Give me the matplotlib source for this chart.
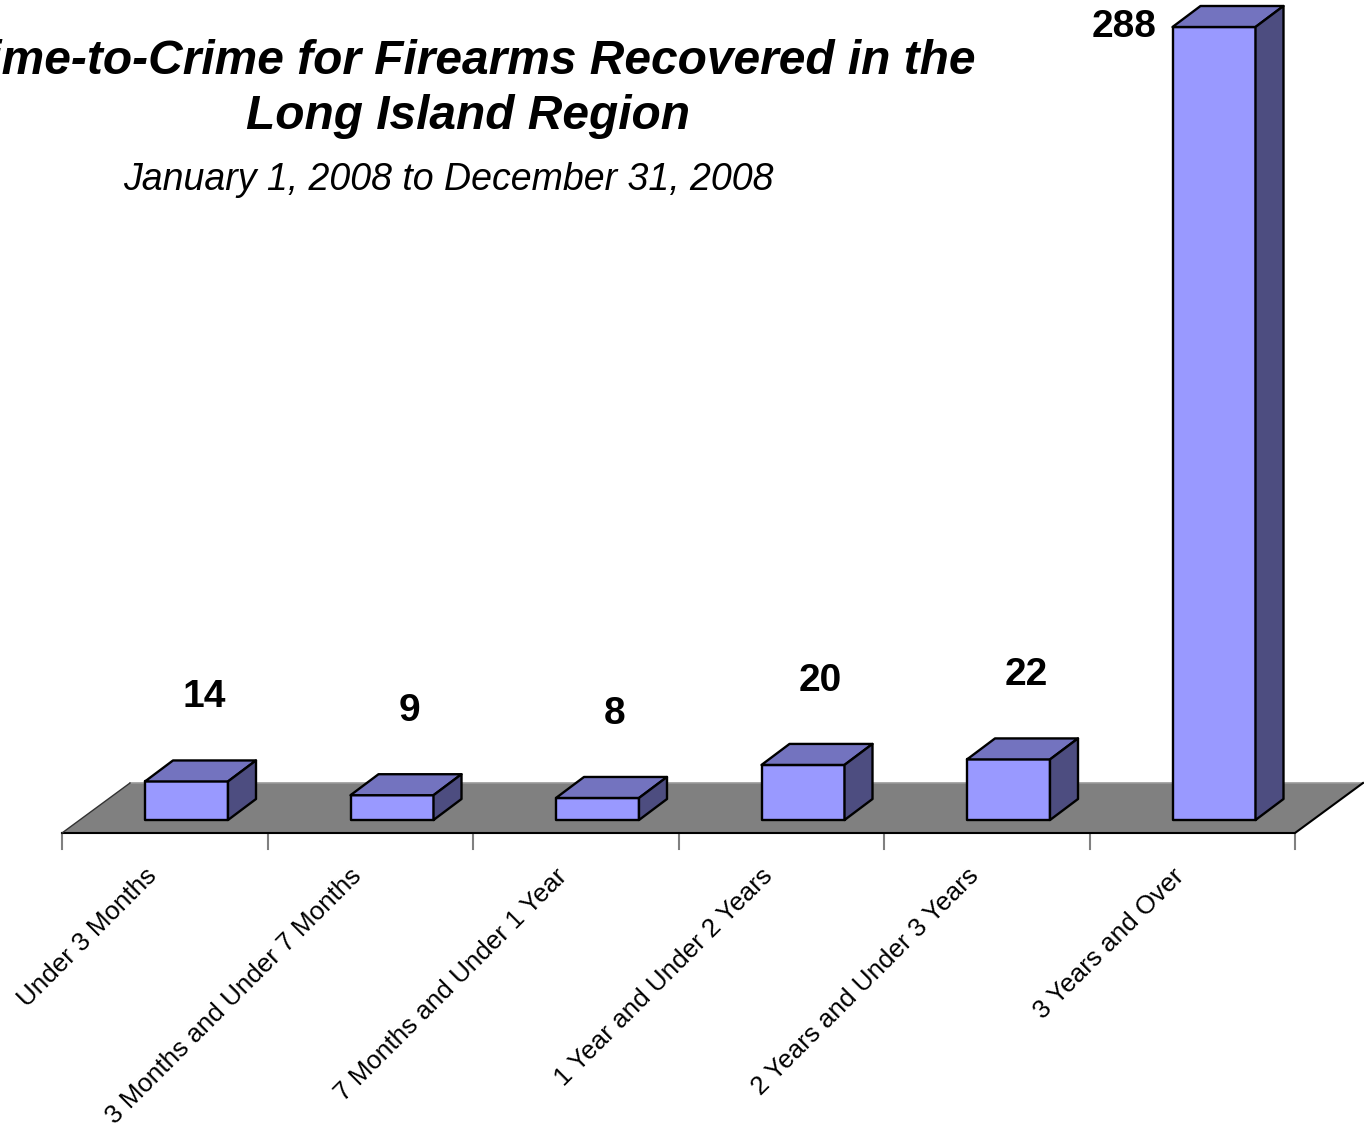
import matplotlib.pyplot as plt
from matplotlib.patches import Polygon

plt.rcParams['font.family'] = ['Liberation Sans', 'DejaVu Sans']

categories = ["Under 3 Months", "3 Months and Under 7 Months",
              "7 Months and Under 1 Year", "1 Year and Under 2 Years",
              "2 Years and Under 3 Years", "3 Years and Over"]
counts = [14, 9, 8, 20, 22, 288]

title = "Time-to-Crime for Firearms Recovered in the\nLong Island Region"
subtitle = "January 1, 2008 to December 31, 2008"

# colours
front_col = "#9999FF"
top_col = "#7373BF"
side_col = "#4D4D80"
floor_col = "#808080"

# pixel scale of the drawing (category spacing, px per unit)
W, H = 1364, 1130
cat_px = 205.5
val_px = 793 / 288
left_px = 62      # px of x = -0.5
zero_px = 820     # px (from top) of value 0

fig = plt.figure(figsize=(W / 100, H / 100), dpi=100)
ax = fig.add_axes([0, 0, 1, 1])
ax.set_xlim(-0.5 - left_px / cat_px, -0.5 + (W - left_px) / cat_px)
ax.set_ylim(-(H - zero_px) / val_px, zero_px / val_px)
ax.axis("off")

n = len(categories)
# depth of the floor and of each bar
fdx, fdy = 68 / cat_px, 50 / val_px
floor_front = -13 / val_px
bdx, bdy = 28 / cat_px, 21 / val_px
bar_w = 83 / cat_px

# floor
x0, x1 = -0.5, n - 0.5
floor = Polygon([(x0, floor_front), (x1, floor_front),
                 (x1 + fdx, floor_front + fdy), (x0 + fdx, floor_front + fdy)],
                closed=True, facecolor=floor_col, edgecolor="none", zorder=1)
ax.add_patch(floor)
ax.plot([x0 + fdx, x1 + fdx], [floor_front + fdy] * 2, color="#999999", lw=1.2, zorder=1.5)
ax.plot([x0, x1, x1 + fdx], [floor_front, floor_front, floor_front + fdy],
        color="black", lw=1.5, zorder=1.5)
ax.plot([x0, x0 + fdx], [floor_front, floor_front + fdy], color="#333333", lw=1, zorder=1.5)

# tick marks
for k in range(n + 1):
    ax.plot([k - 0.5, k - 0.5], [floor_front, floor_front - 16 / val_px],
            color="#808080", lw=1.5, zorder=1)

# bars
for i, v in enumerate(counts):
    bx = i - 0.5 + 83 / cat_px
    ec = dict(edgecolor="black", lw=1.7, joinstyle="round", zorder=3)
    ax.add_patch(Polygon([(bx, 0), (bx + bar_w, 0), (bx + bar_w, v), (bx, v)],
                         facecolor=front_col, **ec))
    ax.add_patch(Polygon([(bx, v), (bx + bar_w, v), (bx + bar_w + bdx, v + bdy),
                          (bx + bdx, v + bdy)], facecolor=top_col, **ec))
    ax.add_patch(Polygon([(bx + bar_w, 0), (bx + bar_w + bdx, bdy),
                          (bx + bar_w + bdx, v + bdy), (bx + bar_w, v)],
                         facecolor=side_col, **ec))
    ly = v + bdy + 23
    if ly > ax.get_ylim()[1] - 10:
        ax.text(i - 0.33, v, str(v), ha="center", va="center",
                fontsize=28, fontweight="bold", zorder=4)
    else:
        ax.text(i + 0.19, ly, str(v), ha="center", va="center",
                fontsize=28, fontweight="bold", zorder=4)

# category labels
for i, c in enumerate(categories):
    ax.text(i - 0.1, -(864 - zero_px) / val_px, c, rotation=45,
            rotation_mode="anchor", ha="right", va="top", fontsize=18.7)

# titles
ax.text(-0.5 + (468 - left_px) / cat_px, (zero_px - 89) / val_px, title,
        ha="center", va="center", fontsize=34.5, fontweight="bold",
        fontstyle="italic", linespacing=1.28)
ax.text(-0.5 + (448 - left_px) / cat_px, (zero_px - 180) / val_px, subtitle,
        ha="center", va="center", fontsize=27, fontstyle="italic")

fig.savefig("out.png", dpi=100)
